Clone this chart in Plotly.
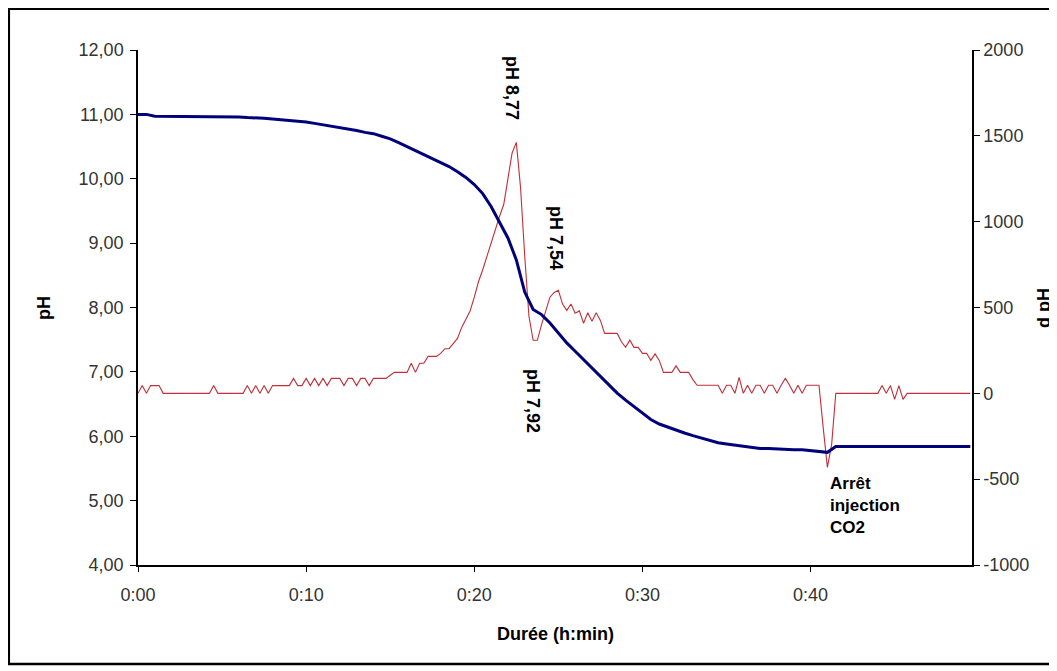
import plotly.graph_objects as go

# ---- data ----
# pH sampled every 30 s (minutes from start)
ph_values = [
    11.00, 11.00, 10.97, 10.97, 10.97, 10.97, 10.97, 10.97, 10.97, 10.97,   # 0 - 4.5
    10.96, 10.96, 10.96, 10.95, 10.95, 10.94, 10.93, 10.92, 10.91, 10.89,   # 5 - 9.5
    10.88, 10.86, 10.84, 10.82, 10.80, 10.78, 10.75, 10.72, 10.70, 10.66,   # 10 - 14.5
    10.62, 10.56, 10.50, 10.44, 10.38, 10.32, 10.26, 10.19, 10.11, 10.02,   # 15 - 19.5
    9.91, 9.77, 9.57, 9.33, 9.08, 8.74, 8.24, 7.97, 7.89, 7.76,             # 20 - 24.5
    7.60, 7.45, 7.32, 7.19, 7.05, 6.92, 6.79, 6.67, 6.56, 6.46,             # 25 - 29.5
    6.35, 6.26, 6.19, 6.14, 6.09, 6.05, 6.01, 5.97, 5.93, 5.90,             # 30 - 34.5
    5.88, 5.86, 5.84, 5.82, 5.81, 5.81, 5.80, 5.80, 5.79, 5.79,             # 35 - 39.5
    5.78, 5.77, 5.75, 5.84, 5.84, 5.84, 5.84, 5.84, 5.84, 5.84,             # 40 - 44.5
    5.84, 5.84, 5.84, 5.84, 5.84, 5.84, 5.84, 5.84, 5.84, 5.84,             # 45 - 49.5
]
ph_time = [i * 0.5 for i in range(len(ph_values))]

# d pH sampled every 15 s
dph_values = [
    0, 45, 0, 45,        45, 45, 0, 0,          0, 0, 0, 0,            0, 0, 0, 0,          # 0-3
    0, 0, 45, 0,         0, 0, 0, 0,            0, 0, 45, 0,           45, 0, 45, 0,        # 4-7
    45, 45, 45, 45,      45, 87, 45, 45,        87, 45, 87, 45,        87, 45, 87, 87,      # 8-11
    87, 45, 87, 87,      45, 87, 87, 45,        87, 87, 87, 87,        105, 122, 122, 122,  # 12-15
    122, 175, 122, 175,  175, 215, 215, 215,    233, 260, 260, 290,    320, 384, 430, 480,  # 16-19
    560, 650, 720, 800,  870, 950, 1030, 1100,  1250, 1400, 1462, 1200, 800, 450, 309, 309, # 20-23
    400, 480, 560, 588,  600, 520, 483, 520,    466, 480, 408, 470,    420, 470, 425, 349,  # 24-27
    349, 349, 349, 300,  268, 310, 268, 268,    233, 233, 192, 230,    192, 122, 122, 122,  # 28-31
    160, 122, 122, 122,  80, 47, 47, 47,        47, 47, 47, 0,         47, 47, 0, 93,       # 32-35
    0, 47, 0, 47,        47, 0, 47, 47,         0, 47, 87, 47,         0, 47, 0, 47,        # 36-39
    47, 47, 47, -200,    -431, -300, 0, 0,      0, 0, 0, 0,            0, 0, 0, 0,          # 40-43
    0, 45, 0, 45,        -35, 45, -35, 0,       0, 0, 0, 0,            0, 0, 0, 0,          # 44-47
    0, 0, 0, 0,          0, 0, 0,                                                           # 48-49.5
]
dph_time = [i * 0.25 for i in range(len(dph_values))]

x_tickvals = [0, 10, 20, 30, 40]
x_ticktext = ["0:00", "0:10", "0:20", "0:30", "0:40"]
ph_tickvals = [4, 5, 6, 7, 8, 9, 10, 11, 12]
ph_ticktext = ["4,00", "5,00", "6,00", "7,00", "8,00", "9,00", "10,00", "11,00", "12,00"]
dph_tickvals = [-1000, -500, 0, 500, 1000, 1500, 2000]
dph_ticktext = ["-1000", "-500", "0", "500", "1000", "1500", "2000"]

# ---- layout geometry ----
# The page body has an 8 px margin, so the figure is drawn 8 px right/down.
OFF = 8
W, H = 1057 - OFF, 671 - OFF
# plot area in screen pixels
L, R, T, B = 138, 972, 50, 565


def px(xs):
    return (xs - L) / (R - L)


def py(ys):
    return (B - ys) / (B - T)


TICKFONT = dict(family="Liberation Sans, Arial, sans-serif", size=18, color="#333333")
BOLD = dict(family="Liberation Sans, Arial, sans-serif", size=18, color="#000000", weight="bold")

fig = go.Figure()
fig.add_trace(go.Scatter(x=dph_time, y=dph_values, mode="lines", yaxis="y",
                         line=dict(color="#c0303a", width=1.1), name="d pH",
                         showlegend=False))
fig.add_trace(go.Scatter(x=ph_time, y=ph_values, mode="lines", yaxis="y2",
                         line=dict(color="#00007a", width=3), name="pH",
                         showlegend=False))

fig.update_layout(
    width=W, height=H,
    margin=dict(l=L - OFF, r=W - (R - OFF), t=T - OFF, b=H - (B - OFF), pad=0),
    paper_bgcolor="white", plot_bgcolor="white",
    xaxis=dict(range=[0, 49.6], tickvals=x_tickvals, ticktext=x_ticktext,
               showgrid=False, zeroline=False, showline=True, linecolor="black",
               linewidth=1.5, ticks="outside", ticklen=5, tickcolor="black",
               tickfont=TICKFONT, ticklabelstandoff=8),
    yaxis=dict(range=[-1000, 2000], side="right", tickvals=dph_tickvals,
               ticktext=dph_ticktext,
               showgrid=False, zeroline=False, showline=True, linecolor="black",
               linewidth=1.5, ticks="outside", ticklen=6, tickcolor="black",
               tickfont=TICKFONT),
    yaxis2=dict(range=[4, 12], side="left", overlaying="y", tickvals=ph_tickvals,
                ticktext=ph_ticktext, showgrid=False, zeroline=False, showline=True,
                linecolor="black", linewidth=1.5, ticks="outside", ticklen=6,
                tickcolor="black", tickfont=TICKFONT, ticklabelstandoff=3),
)

annots = [
    dict(text="pH 8,77", x=px(512), y=py(88), textangle=90),
    dict(text="pH 7,54", x=px(556), y=py(238), textangle=90),
    dict(text="pH 7,92", x=px(533), y=py(401), textangle=90),
    dict(text="pH", x=px(44), y=py(308), textangle=-90),
    dict(text="d pH", x=px(1044), y=py(308), textangle=-90),
    dict(text="Durée (h:min)", x=px(555), y=py(634), textangle=0),
]
for a in annots:
    fig.add_annotation(xref="paper", yref="paper", showarrow=False,
                       xanchor="center", yanchor="middle", font=BOLD, **a)

fig.add_annotation(xref="paper", yref="paper", showarrow=False,
                   x=px(828), y=py(472), xanchor="left", yanchor="top", align="left",
                   text="Arrêt<br>injection<br>CO2",
                   font=dict(family="Liberation Sans, Arial, sans-serif", size=17,
                             color="#000000", weight="bold"))

# outer frame
fig.add_shape(type="rect", xref="paper", yref="paper",
              x0=px(8.8), x1=px(1051), y0=py(664), y1=py(8.8),
              line=dict(color="black", width=2.5), fillcolor="rgba(0,0,0,0)")

fig.write_html("out.html")
